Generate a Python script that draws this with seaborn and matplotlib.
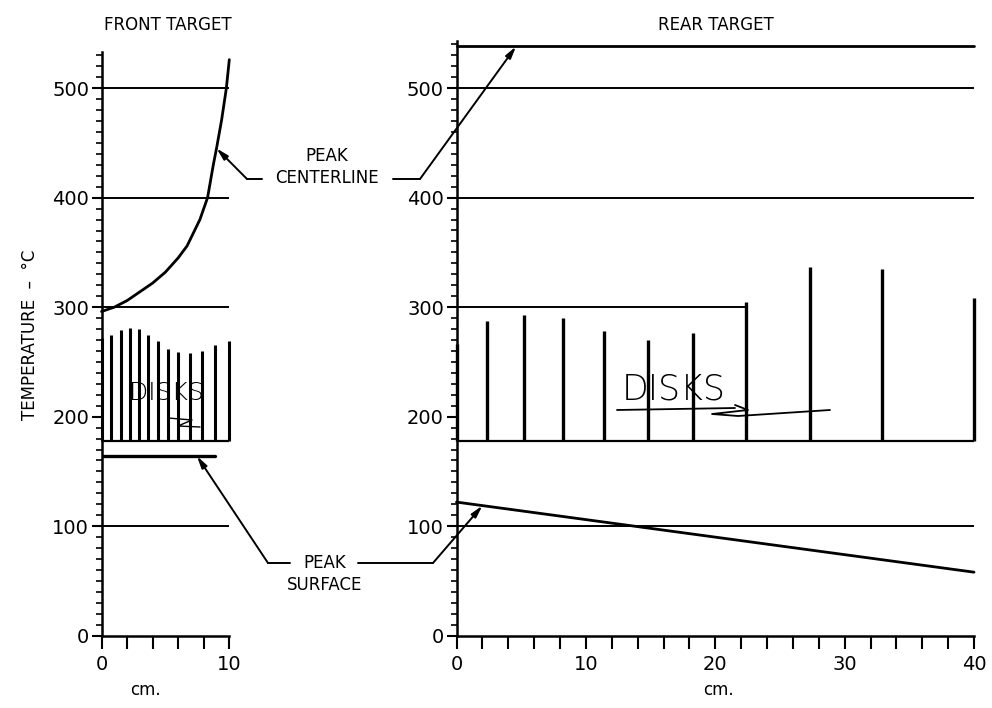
import numpy as np
import pandas as pd
import matplotlib.pyplot as plt
from matplotlib.lines import Line2D
from matplotlib.ticker import MultipleLocator
import seaborn as sns

# front target, 0-10 cm
front_x = [0, 1, 2, 2.5, 3, 4, 5, 6, 6.7, 7.7, 8.3, 8.75, 9.0, 9.4, 9.77, 10.0]
front_center = [296, 300, 306, 310, 314, 322, 332, 345, 356, 380, 400, 430, 445, 471, 500, 526]
front_surface_x = [0, 8.9]
front_surface = [164, 164]
front_disk_x = [0, 0.78, 1.55, 2.25, 2.92, 3.62, 4.44, 5.2, 6.0, 6.9, 7.9, 8.9, 10.0]
front_disk_top = [272, 275, 279, 281, 280, 275, 269, 262, 259, 258, 260, 265, 269]
front_grid = [100, 300, 400, 500]

# rear target, 0-40 cm
rear_x = [0, 40]
rear_center = [538, 538]
rear_surface = [122, 58]
rear_disk_x = [0, 2.34, 5.2, 8.26, 11.4, 14.8, 18.3, 22.4, 27.3, 32.9, 40.0]
rear_disk_top = [266, 287, 293, 290, 278, 270, 276, 305, 337, 335, 308]
rear_grid = [100, 400, 500]
rear_grid_short = 300   # only runs up to the 22 cm disk

disk_base = 178

sns.set_style('ticks')
plt.rcParams['font.family'] = ['DejaVu Sans']
plt.rcParams.update({'text.color': 'black', 'axes.edgecolor': 'black',
                     'xtick.color': 'black', 'ytick.color': 'black',
                     'axes.labelcolor': 'black'})

W, H = 992, 708
fig = plt.figure(figsize=(W / 100, H / 100), dpi=100)

def fx(x):
    return x / W

def fy(y):
    return (H - y) / H

# axes placed to match the scan (pixel boxes)
ax1 = fig.add_axes([fx(101.5), fy(635.7), (229.3 - 101.5) / W, (635.7 - 52) / H])
ax2 = fig.add_axes([fx(456.5), fy(635.7), (974 - 456.5) / W, (635.7 - 41) / H])

front = pd.DataFrame({'x': front_x, 'T': front_center})
rear = pd.DataFrame({'x': rear_x * 2, 'T': rear_center + rear_surface,
                     'line': ['center'] * 2 + ['surface'] * 2})

# front panel
for g in front_grid:
    ax1.hlines(g, 0, 10, color='k', lw=1.4, clip_on=False)
ax1.vlines(front_disk_x, disk_base, front_disk_top, color='k', lw=2.2, clip_on=False)
ax1.hlines(disk_base, 0, 10, color='k', lw=1.6, clip_on=False)
sns.lineplot(data=front, x='x', y='T', color='k', lw=2, ax=ax1, clip_on=False)
sns.lineplot(x=front_surface_x, y=front_surface, color='k', lw=2.4, ax=ax1)
ax1.set_xlim(0, 10)
ax1.set_ylim(0, 533)
ax1.set_xticks(range(0, 11, 2), ['0', '', '', '', '', '10'])

# rear panel
for g in rear_grid:
    ax2.hlines(g, 0, 40, color='k', lw=1.4, clip_on=False)
ax2.hlines(rear_grid_short, 0, 22.4, color='k', lw=1.4)
ax2.vlines(rear_disk_x, disk_base, rear_disk_top, color='k', lw=2.4, clip_on=False)
ax2.hlines(disk_base, 0, 40, color='k', lw=1.6, clip_on=False)
sns.lineplot(data=rear, x='x', y='T', units='line', estimator=None,
             color='k', lw=2, ax=ax2, clip_on=False)
ax2.set_xlim(0, 40)
ax2.set_ylim(0, 543)
ax2.set_xticks(range(0, 41, 2), [str(t) if t % 10 == 0 else '' for t in range(0, 41, 2)])

for ax in (ax1, ax2):
    sns.despine(ax=ax)
    ax.spines['left'].set_linewidth(1.8)
    ax.spines['bottom'].set_linewidth(1.8)
    ax.yaxis.set_major_locator(MultipleLocator(100))
    ax.yaxis.set_minor_locator(MultipleLocator(10))
    ax.tick_params(axis='y', which='major', length=7, width=1.5, direction='out',
                   labelsize=14, pad=2)
    ax.tick_params(axis='y', which='minor', length=4, width=1.2, direction='out')
    ax.tick_params(axis='x', which='major', length=9, width=1.5, direction='out',
                   labelsize=14, pad=5)
    ax.set_xlabel('')
    ax.set_ylabel('')
    ax.grid(False)

# titles and axis labels
fig.text(fx(168), fy(25), 'FRONT TARGET', ha='center', va='center', fontsize=12)
fig.text(fx(716), fy(25), 'REAR TARGET', ha='center', va='center', fontsize=12)
fig.text(fx(30), fy(335), 'TEMPERATURE  –  °C', rotation=90, ha='center', va='center', fontsize=12)
fig.text(fx(145), fy(690), 'cm.', ha='center', va='center', fontsize=12)
fig.text(fx(718), fy(690), 'cm.', ha='center', va='center', fontsize=12)


def leader(ax, xy, elbow, end):
    # short horizontal stub beside the label, then an arrow to the curve
    fig.add_artist(Line2D([fx(end), fx(elbow[0])], [fy(elbow[1]), fy(elbow[1])],
                          transform=fig.transFigure, color='k', lw=1.4))
    ax.annotate('', xy=xy, xycoords='data',
                xytext=(fx(elbow[0]), fy(elbow[1])), textcoords='figure fraction',
                arrowprops=dict(arrowstyle='-|>,head_length=0.7,head_width=0.18',
                                color='k', lw=1.4, shrinkA=0, shrinkB=0),
                annotation_clip=False)


fig.text(fx(327), fy(167), 'PEAK\nCENTERLINE', ha='center', va='center',
         fontsize=12, linespacing=1.25)
leader(ax1, (9.0, 445), (247, 179), 262)
leader(ax2, (4.6, 538), (420, 179), 393)

fig.text(fx(325), fy(574), 'PEAK\nSURFACE', ha='center', va='center',
         fontsize=12, linespacing=1.25)
leader(ax1, (7.47, 164), (268, 563), 290)
leader(ax2, (2.0, 118.7), (433, 563), 358)

# handwritten "DISKS" notes
fig.text(fx(166), fy(393), 'DISKS', ha='center', va='center', fontsize=18,
         fontweight='light', color='k')
fig.text(fx(674), fy(390), 'DISKS', ha='center', va='center', fontsize=25,
         fontweight='light', color='k')
fig.add_artist(Line2D([fx(617), fx(735)], [fy(410), fy(408)],
                      transform=fig.transFigure, color='k', lw=1.3))
fig.add_artist(Line2D([fx(735), fx(748), fx(712), fx(738), fx(830)],
                      [fy(405), fy(410), fy(414), fy(416), fy(410)],
                      transform=fig.transFigure, color='k', lw=1.3))
fig.add_artist(Line2D([fx(168), fx(192), fx(178), fx(200)],
                      [fy(418), fy(420), fy(426), fy(427)],
                      transform=fig.transFigure, color='k', lw=1.0))

fig.savefig('out.png', dpi=100)
